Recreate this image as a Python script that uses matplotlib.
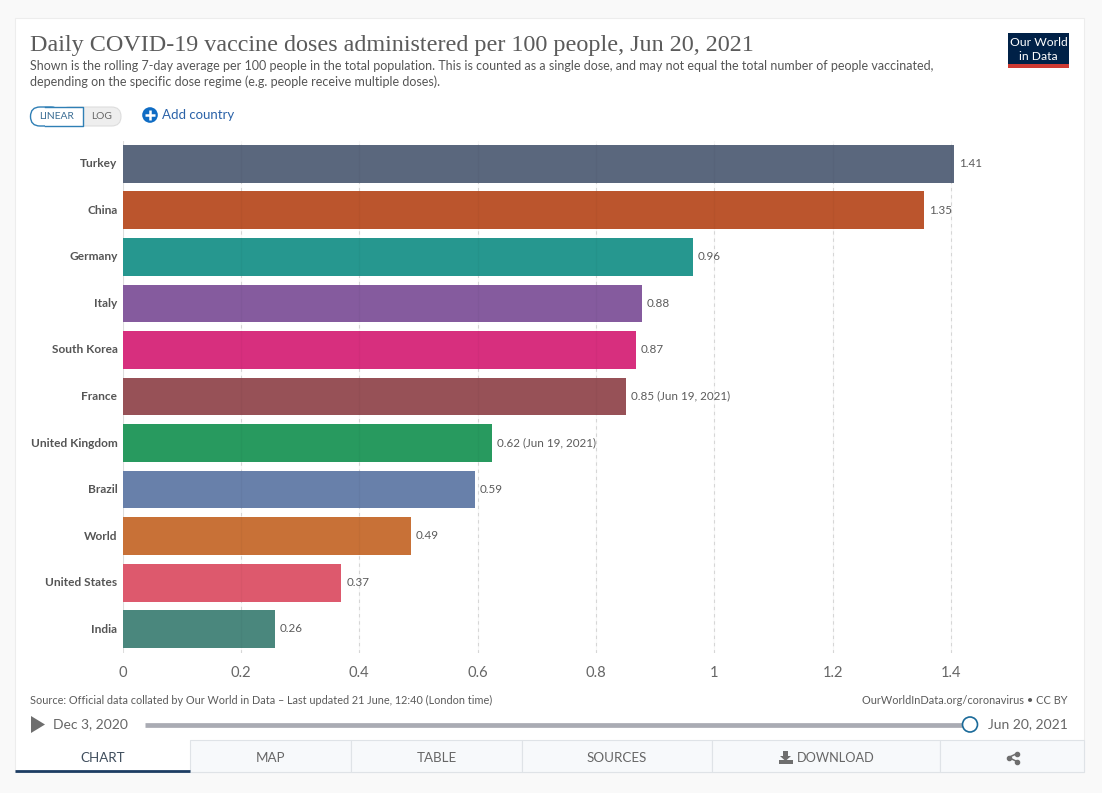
import matplotlib
matplotlib.use("Agg")
import matplotlib.pyplot as plt
from matplotlib.patches import Rectangle, Circle, Polygon, FancyBboxPatch
from matplotlib.transforms import ScaledTranslation

plt.rcParams['font.family'] = ['Lato', 'DejaVu Sans']

W, H = 1102, 793

# Data
countries = ['Turkey', 'China', 'Germany', 'Italy', 'South Korea', 'France',
             'United Kingdom', 'Brazil', 'World', 'United States', 'India']
doses = [1.405, 1.354, 0.964, 0.878, 0.867, 0.851, 0.624, 0.595, 0.487, 0.37, 0.257]
value_labels = ['1.41', '1.35', '0.96', '0.88', '0.87', '0.85 (Jun 19, 2021)',
                '0.62 (Jun 19, 2021)', '0.59', '0.49', '0.37', '0.26']
colors = ['#5a677d', '#bb552d', '#26978f', '#855b9e', '#d72f7e', '#975157',
          '#289a5f', '#6880aa', '#c87137', '#dd596d', '#4a877d']
xticks = [0, 0.2, 0.4, 0.6, 0.8, 1, 1.2, 1.4]
xticklabels = ['0', '0.2', '0.4', '0.6', '0.8', '1', '1.2', '1.4']
tabs = ['CHART', 'MAP', 'TABLE', 'SOURCES', 'DOWNLOAD', '']
tab_edges = [15, 190, 351, 522, 712, 940, 1084]

fig = plt.figure(figsize=(W / 100, H / 100), dpi=100, facecolor='#f9f9f9')

# page layer in pixel coordinates
bg = fig.add_axes([0, 0, 1, 1])
bg.set_xlim(0, W)
bg.set_ylim(H, 0)
bg.axis('off')

# card
bg.add_patch(Rectangle((16, 20), 1069, 753, fc='#e2e2e2', ec='none'))
bg.add_patch(Rectangle((15, 18), 1069, 754, fc='white', ec='#ededed', lw=0.8))

# header
bg.text(30, 45, 'Daily COVID-19 vaccine doses administered per 100 people, Jun 20, 2021',
        family='Liberation Serif', fontsize=17.35, color='#5b5b5b', va='center')
bg.text(30, 66.5, 'Shown is the rolling 7-day average per 100 people in the total population. '
        'This is counted as a single dose, and may not equal the total number of people vaccinated,',
        fontsize=9.0, color='#555555', va='center')
bg.text(30, 81.5, 'depending on the specific dose regime (e.g. people receive multiple doses).',
        fontsize=9.0, color='#555555', va='center')

# logo
bg.add_patch(Rectangle((1008, 33), 61, 35, fc='#002147', ec='none'))
bg.add_patch(Rectangle((1008, 64), 61, 4, fc='#ce3a32', ec='none'))
bg.text(1038.5, 43, 'Our World', color='white', fontsize=8.7, ha='center', va='center')
bg.text(1038.5, 56, 'in Data', color='white', fontsize=8.7, ha='center', va='center')

# linear / log toggle
bg.add_patch(FancyBboxPatch((60, 107), 61, 19, boxstyle='round,pad=0,rounding_size=9.5',
                            fc='#eeeeee', ec='#dddddd', lw=0.8))
bg.add_patch(FancyBboxPatch((30.5, 107), 30, 19, boxstyle='round,pad=0,rounding_size=9.5',
                            fc='white', ec='#2f7fb5', lw=1))
bg.add_patch(Rectangle((45, 106.5), 38, 20, fc='white', ec='none'))
bg.plot([45, 83, 83, 45], [107, 107, 126, 126], color='#2f7fb5', lw=1)
bg.text(57, 116.5, 'LINEAR', fontsize=7.4, color='#3a6d94', ha='center', va='center')
bg.text(102, 116.5, 'LOG', fontsize=7.4, color='#666666', ha='center', va='center')

# add country
bg.add_patch(Circle((150, 115), 7.8, fc='#0f6cc4', ec='none'))
bg.plot([145, 155], [115, 115], color='white', lw=1.8, solid_capstyle='butt')
bg.plot([150, 150], [110, 120], color='white', lw=1.8, solid_capstyle='butt')
bg.text(162, 115, 'Add country', fontsize=9.5, color='#2a62a8', va='center')

# bar chart, axes box set so x=0 falls at px 122.5 and 1.4 at px 951
left, right, top, bottom = 122.5, 1010.25, 140.5, 652.5
ax = fig.add_axes([left / W, 1 - bottom / H, (right - left) / W, (bottom - top) / H])
ax.patch.set_alpha(0)
ypos = list(range(len(countries)))
ax.barh(ypos, doses, height=0.81, color=colors, zorder=2, edgecolor='none')
ax.set_xlim(0, 1.5)
ax.set_ylim(len(countries) - 0.5, -0.5)
ax.set_xticks(xticks)
ax.set_xticklabels(xticklabels, fontsize=10.6, color='#666666')
ax.set_yticks(ypos)
ax.set_yticklabels(countries, fontsize=8.6, color='#555555', fontweight='bold')
ax.tick_params(axis='both', length=0)
ax.tick_params(axis='x', pad=9.5)
ax.tick_params(axis='y', pad=3.6)
# names sit a pixel above the bar centres
for lbl in ax.get_yticklabels():
    lbl.set_transform(lbl.get_transform() + ScaledTranslation(0, 1 / 100, fig.dpi_scale_trans))
for s in ax.spines.values():
    s.set_visible(False)
ax.grid(False)
# grid stays faintly visible through the bars
for t in xticks:
    ax.axvline(t, color='#dddddd', lw=0.8, ls=(0, (3, 3.5)) if t else '-', zorder=1)
    if t:
        ax.axvline(t, color='#000000', alpha=0.03, lw=0.9, zorder=3)
for y, d, lab in zip(ypos, doses, value_labels):
    ax.annotate(lab, (d, y), xytext=(3.4, 0.2), textcoords='offset points', fontsize=8.4,
                color='#5b5b5b', va='center', zorder=4, annotation_clip=False)

# footer
bg.text(30, 700, 'Source: Official data collated by Our World in Data \u2013 Last updated 21 June, 12:40 (London time)',
        fontsize=7.85, color='#5b5b5b', va='center')
bg.text(1067.5, 700, 'OurWorldInData.org/coronavirus \u2022 CC BY',
        fontsize=7.95, color='#5b5b5b', va='center', ha='right')

# timeline
bg.add_patch(Polygon([(31, 716), (31, 733), (45, 724.5)], fc='#6e6e6e', ec='none'))
bg.text(53, 724.5, 'Dec 3, 2020', fontsize=10, color='#666666', va='center')
bg.plot([145, 970], [724.5, 724.5], color='#a9abb3', lw=3.4, solid_capstyle='butt')
bg.add_patch(Circle((970, 724.5), 7.5, fc='white', ec='#1a6a99', lw=1.2, zorder=3))
bg.text(1067.5, 724.5, 'Jun 20, 2021', fontsize=10, color='#666666', va='center', ha='right')

# tabs
for i, label in enumerate(tabs):
    x0, x1 = tab_edges[i], tab_edges[i + 1]
    if i > 0:
        bg.add_patch(Rectangle((x0, 740), x1 - x0, 32, fc='#f7f9fb', ec='#dfe3e7', lw=0.8))
    cx = (x0 + x1) / 2
    if label == 'DOWNLOAD':
        # little arrow-into-tray icon
        bg.add_patch(Polygon([(783, 751), (788, 751), (788, 756), (791, 756), (785.5, 761), (780, 756), (783, 756)],
                             fc='#6e6e6e', ec='none'))
        bg.add_patch(Rectangle((778.5, 760), 14, 4, fc='#6e6e6e', ec='none'))
        bg.text(797, 757.5, label, fontsize=9.2, color='#666666', va='center')
    elif label:
        bg.text(cx, 757.5, label, fontsize=9.6, color='#3f4d5c' if i == 0 else '#666666',
                ha='center', va='center')
bg.plot([15, 190], [771, 771], color='#1d3d63', lw=2, solid_capstyle='butt')

# share icon
sx = [1017, 1008.5, 1017]
sy = [753.5, 757.5, 761.5]
bg.plot(sx, sy, color='#6e6e6e', lw=1.1)
bg.scatter(sx, sy, s=9, color='#6e6e6e', zorder=3)

fig.savefig('out.png', dpi=100, facecolor=fig.get_facecolor())
